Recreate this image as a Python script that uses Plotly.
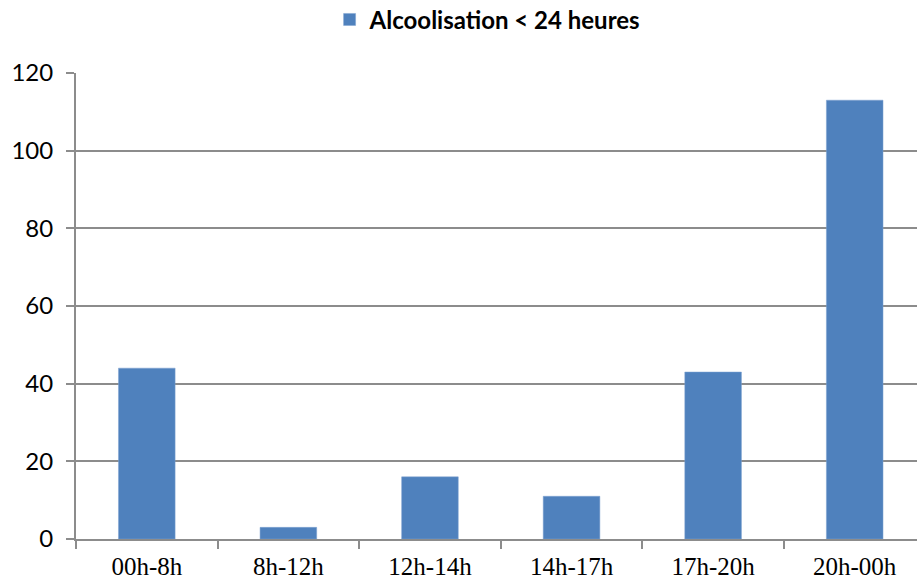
import plotly.graph_objects as go

categories = ["00h-8h", "8h-12h", "12h-14h", "14h-17h", "17h-20h", "20h-00h"]
values = [44, 3, 16, 11, 43, 113]
series_name = "Alcoolisation < 24 heures"
y_ticks = [0, 20, 40, 60, 80, 100, 120]

fig = go.Figure()
fig.add_trace(go.Bar(
    x=categories, y=values, name=series_name,
    marker=dict(color="#4F81BD", line=dict(color="#7FA3D0", width=0.5)),
))

fig.update_layout(
    width=917, height=584,
    margin=dict(l=76, r=0, t=73, b=45),
    paper_bgcolor="white", plot_bgcolor="white",
    bargap=0.6,
    showlegend=True,
    legend=dict(orientation="h", x=0.49, xref="paper", xanchor="center", y=0.966, yref="container",
                yanchor="middle", font=dict(family="Lato", size=24, color="black", weight="bold"),
                itemwidth=30),
    xaxis=dict(
        type="category", range=[-0.5, 5.44], tickson="boundaries",
        showline=True, linecolor="#8c8c8c", linewidth=2,
        ticks="outside", ticklen=8, tickcolor="#8c8c8c", tickwidth=2,
        showgrid=False,
        tickfont=dict(family="Liberation Serif", size=25, color="black"),
        ticklabelstandoff=4,
    ),
    yaxis=dict(
        range=[0, 120], tickvals=y_ticks,
        showline=True, linecolor="#8c8c8c", linewidth=2,
        ticks="outside", ticklen=8, tickcolor="#8c8c8c", tickwidth=2,
        showgrid=True, gridcolor="#8c8c8c", gridwidth=2,
        zeroline=False,
        tickfont=dict(family="Lato", size=24, color="black"),
        ticklabelstandoff=8,
    ),
)

fig.write_html("out.html", config={"displayModeBar": False},
               post_script="document.body.style.margin='0';")
